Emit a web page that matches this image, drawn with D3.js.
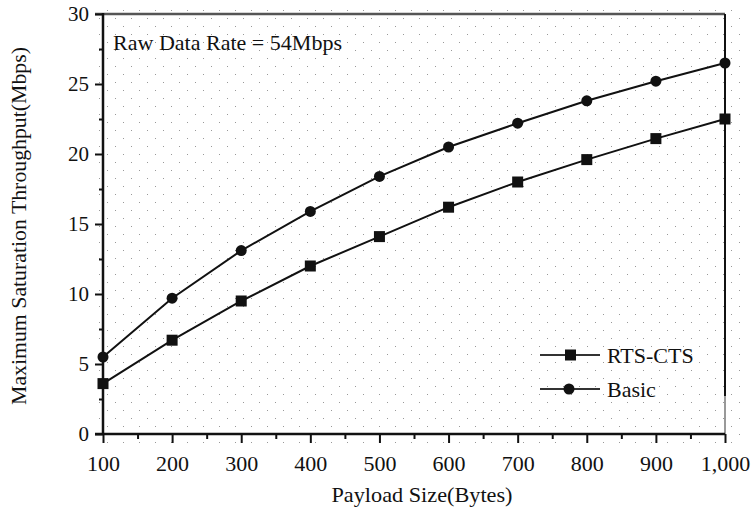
<!DOCTYPE html>
<html>
<head>
<meta charset="utf-8">
<script src="https://cdn.jsdelivr.net/npm/d3@7"></script>
<style>
  body { margin: 0; background: #fff; }
  svg { display: block; }
  text { font-family: "Liberation Serif", "DejaVu Serif", serif; fill: #111; }
</style>
</head>
<body>
<svg width="753" height="515"></svg>
<script>
// chart data
const payload = [100, 200, 300, 400, 500, 600, 700, 800, 900, 1000];
const rtsCts = [3.6, 6.7, 9.5, 12.0, 14.1, 16.2, 18.0, 19.6, 21.1, 22.5];
const basic = [5.5, 9.7, 13.1, 15.9, 18.4, 20.5, 22.2, 23.8, 25.2, 26.5];
const xTicks = [100, 200, 300, 400, 500, 600, 700, 800, 900, 1000];
const xMinor = [150, 250, 350, 450, 550, 650, 750, 850, 950];
const yTicks = [0, 5, 10, 15, 20, 25, 30];
const yMinor = [2.5, 7.5, 12.5, 17.5, 22.5, 27.5];

const svg = d3.select("svg");

// plot box
const plotLeft = 103, plotRight = 725, plotTop = 14, plotBottom = 434;
const x = d3.scaleLinear().domain([100, 1000]).range([plotLeft, plotRight]);
const y = d3.scaleLinear().domain([0, 30]).range([plotBottom, plotTop]);

// dotted background, staggered like the original
const defs = svg.append("defs");
const pat = defs.append("pattern")
  .attr("id", "dots")
  .attr("patternUnits", "userSpaceOnUse")
  .attr("width", 16).attr("height", 16)
  .attr("x", 3).attr("y", 2);
pat.append("rect").attr("x", 0).attr("y", 0).attr("width", 1).attr("height", 1).attr("fill", "#999");
pat.append("rect").attr("x", 8).attr("y", 8).attr("width", 1).attr("height", 1).attr("fill", "#999");

svg.append("rect")
  .attr("x", 94).attr("y", 8)
  .attr("width", 646).attr("height", 438)
  .attr("fill", "url(#dots)");

// top and right frame
svg.append("line")
  .attr("x1", 95).attr("x2", plotRight).attr("y1", plotTop).attr("y2", plotTop)
  .attr("stroke", "#555").attr("stroke-width", 2.5);
svg.append("line")
  .attr("x1", plotRight).attr("x2", plotRight).attr("y1", plotTop).attr("y2", 396)
  .attr("stroke", "#111").attr("stroke-width", 2);
svg.append("line")
  .attr("x1", plotRight).attr("x2", plotRight).attr("y1", 396).attr("y2", plotBottom)
  .attr("stroke", "#999").attr("stroke-width", 2);

// y axis
const yAxis = svg.append("g")
  .attr("transform", `translate(${plotLeft},0)`)
  .call(d3.axisLeft(y).tickValues(yTicks).tickSize(8).tickPadding(6).tickFormat(d3.format("d")));
svg.append("g")
  .attr("transform", `translate(${plotLeft},0)`)
  .call(d3.axisLeft(y).tickValues(yMinor).tickSize(4).tickFormat(""))
  .select(".domain").remove();

// x axis
const xAxis = svg.append("g")
  .attr("transform", `translate(0,${plotBottom})`)
  .call(d3.axisBottom(x).tickValues(xTicks).tickSize(9).tickPadding(12)
    .tickFormat(d => d === 1000 ? "1,000" : d));
svg.append("g")
  .attr("transform", `translate(0,${plotBottom})`)
  .call(d3.axisBottom(x).tickValues(xMinor).tickSize(5).tickFormat(""))
  .select(".domain").remove();

svg.selectAll(".domain").attr("stroke", "#111").attr("stroke-width", 2.5);
svg.selectAll(".tick line").attr("stroke", "#111").attr("stroke-width", 2);
yAxis.selectAll(".tick text").attr("font-size", 21).attr("font-family", "Liberation Serif").attr("fill", "#111");
xAxis.selectAll(".tick text").attr("font-size", 22).attr("font-family", "Liberation Serif").attr("fill", "#111");

// extend the domain lines like the original frame
yAxis.select(".domain").attr("d", `M0,${plotTop - 1}V${plotBottom}`);
xAxis.select(".domain").attr("d", `M${95},0H${plotRight}`);

// lines and markers
const line = d3.line().x((d, i) => x(payload[i])).y(d => y(d));

svg.append("path").datum(rtsCts)
  .attr("d", line).attr("fill", "none").attr("stroke", "#111").attr("stroke-width", 2);
svg.append("path").datum(basic)
  .attr("d", line).attr("fill", "none").attr("stroke", "#111").attr("stroke-width", 2);

svg.append("g").selectAll("rect")
  .data(rtsCts).join("rect")
  .attr("x", (d, i) => x(payload[i]) - 5.5)
  .attr("y", d => y(d) - 5.5)
  .attr("width", 11).attr("height", 11)
  .attr("fill", "#111");

svg.append("g").selectAll("circle")
  .data(basic).join("circle")
  .attr("cx", (d, i) => x(payload[i]))
  .attr("cy", d => y(d))
  .attr("r", 5.5)
  .attr("fill", "#111");

// annotation
svg.append("text")
  .attr("x", 113).attr("y", 50)
  .attr("font-size", 21)
  .attr("textLength", 229)
  .attr("lengthAdjust", "spacingAndGlyphs")
  .text("Raw Data Rate = 54Mbps");

// legend
const legend = svg.append("g");
const items = [
  { name: "RTS-CTS", shape: "square", ly: 355 },
  { name: "Basic", shape: "circle", ly: 389 }
];
items.forEach(it => {
  legend.append("line")
    .attr("x1", 540).attr("x2", 600).attr("y1", it.ly).attr("y2", it.ly)
    .attr("stroke", "#333").attr("stroke-width", 2);
  if (it.shape === "square") {
    legend.append("rect")
      .attr("x", 565).attr("y", it.ly - 5.5).attr("width", 11).attr("height", 11)
      .attr("fill", "#111");
  } else {
    legend.append("circle")
      .attr("cx", 569).attr("cy", it.ly).attr("r", 5.5).attr("fill", "#111");
  }
  legend.append("text")
    .attr("x", 607).attr("y", it.ly + 8)
    .attr("font-size", 22)
    .text(it.name);
});

// axis titles
svg.append("text")
  .attr("x", 422).attr("y", 502)
  .attr("text-anchor", "middle")
  .attr("font-size", 21)
  .attr("textLength", 181)
  .attr("lengthAdjust", "spacingAndGlyphs")
  .text("Payload Size(Bytes)");

svg.append("text")
  .attr("transform", "translate(26,226) rotate(-90)")
  .attr("text-anchor", "middle")
  .attr("font-size", 21)
  .attr("textLength", 358)
  .attr("lengthAdjust", "spacingAndGlyphs")
  .text("Maximum Saturation Throughput(Mbps)");
</script>
</body>
</html>
